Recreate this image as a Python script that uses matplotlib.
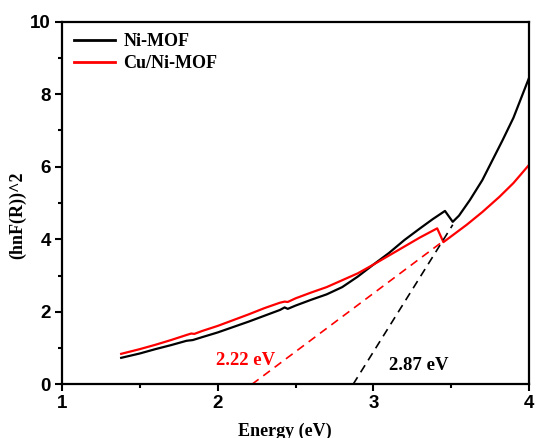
import matplotlib
matplotlib.use("Agg")
import matplotlib.pyplot as plt
from matplotlib.ticker import MultipleLocator

# Data
ni_x = [1.38, 1.50, 1.60, 1.70, 1.80, 1.84, 1.90, 2.00, 2.10, 2.20, 2.30, 2.40, 2.43, 2.45,
        2.50, 2.60, 2.70, 2.80, 2.90, 3.00, 3.10, 3.20, 3.30, 3.38, 3.46, 3.51, 3.55,
        3.62, 3.70, 3.83, 3.90, 4.00]
ni_y = [0.73, 0.85, 0.97, 1.08, 1.20, 1.22, 1.30, 1.43, 1.58, 1.73, 1.89, 2.05, 2.12, 2.08,
        2.17, 2.33, 2.48, 2.68, 2.97, 3.30, 3.62, 3.98, 4.30, 4.55, 4.78, 4.48, 4.65,
        5.08, 5.63, 6.73, 7.35, 8.45]
cu_x = [1.38, 1.50, 1.60, 1.70, 1.80, 1.83, 1.85, 1.90, 2.00, 2.10, 2.20, 2.30, 2.40, 2.43,
        2.45, 2.50, 2.60, 2.70, 2.80, 2.90, 3.00, 3.10, 3.20, 3.30, 3.41, 3.45, 3.50,
        3.60, 3.70, 3.81, 3.90, 4.00]
cu_y = [0.84, 0.97, 1.09, 1.22, 1.36, 1.40, 1.39, 1.47, 1.61, 1.77, 1.93, 2.10, 2.25, 2.28,
        2.27, 2.37, 2.53, 2.68, 2.87, 3.06, 3.30, 3.55, 3.80, 4.05, 4.30, 3.92, 4.08,
        4.40, 4.75, 5.17, 5.55, 6.05]
ni_fit_x = [2.87, 3.51]
ni_fit_y = [0.0, 4.40]
cu_fit_x = [2.22, 3.44]
cu_fit_y = [0.0, 3.92]
series_labels = ["Ni-MOF", "Cu/Ni-MOF"]
gap_labels = ["2.22 eV", "2.87 eV"]
x_ticks = [1, 2, 3, 4]
y_ticks = [0, 2, 4, 6, 8, 10]

serif = "Liberation Serif"
sans = "Liberation Sans"

fig = plt.figure(figsize=(5.36, 4.38), dpi=100)
ax = fig.add_axes([0.1157, 0.1226, 0.8713, 0.828])

ax.plot(ni_x, ni_y, color="black", lw=1.6, label=series_labels[0])
ax.plot(cu_x, cu_y, color="#ff0000", lw=1.6, label=series_labels[1])
ax.plot(ni_fit_x, ni_fit_y, color="black", lw=1.2, linestyle=(0, (5, 3.5)))
ax.plot(cu_fit_x, cu_fit_y, color="#ff0000", lw=1.2, linestyle=(0, (5, 3.5)))

ax.text(1.99, 0.67, gap_labels[0], color="#ff0000", fontsize=13.5, fontweight="bold",
        family=serif, va="center", ha="left")
ax.text(3.10, 0.53, gap_labels[1], color="black", fontsize=13.5, fontweight="bold",
        family=serif, va="center", ha="left")

ax.set_xlim(1, 4)
ax.set_ylim(0, 10)
ax.set_xticks(x_ticks)
ax.set_yticks(y_ticks)
ax.xaxis.set_minor_locator(MultipleLocator(0.5))
ax.yaxis.set_minor_locator(MultipleLocator(1))
ax.tick_params(which="major", direction="out", length=5, width=1.5, labelsize=13.5, pad=3)
ax.tick_params(which="minor", direction="out", length=3, width=1.5)
for lab in ax.get_xticklabels() + ax.get_yticklabels():
    lab.set_fontfamily(sans)
    lab.set_fontweight("bold")
for sp in ax.spines.values():
    sp.set_linewidth(1.6)

ax.set_xlabel("Energy (eV)", fontsize=13, fontweight="bold", family=serif, labelpad=7.5, x=0.476)
ax.set_ylabel("(hnF(R))^2", fontsize=13, fontweight="bold", family=serif, labelpad=3, y=0.467)

leg = ax.legend(loc="upper left", frameon=False, prop={"family": serif, "weight": "bold", "size": 13},
                handlelength=2.3, handletextpad=0.45, borderaxespad=0.25, labelspacing=0.25)
for h in leg.get_lines():
    h.set_linewidth(2)

fig.savefig("out.png", dpi=100)
